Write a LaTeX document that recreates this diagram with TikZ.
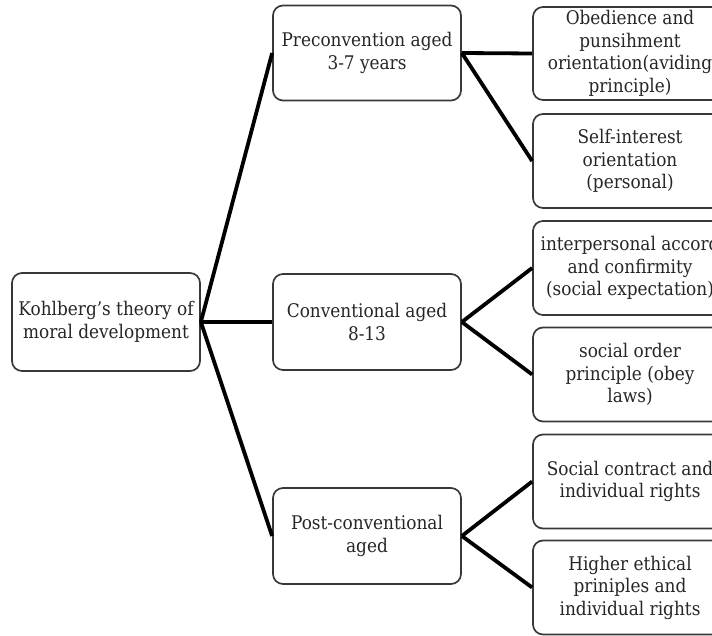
\documentclass[tikz,border=0pt]{standalone}
\usepackage{fontspec}
\setmainfont{DejaVu Serif Condensed}
\begin{document}
\begin{tikzpicture}[x=1pt,y=-1pt,
  box/.style={draw=black!78,line width=1.7pt,rounded corners=10pt,fill=white,
    align=center,text=black!85,inner sep=0pt,
    font=\fontsize{18.8}{22.5}\selectfont},
  midbox/.style={box,minimum width=188pt,minimum height=96pt},
  rbox/.style={box,minimum width=194pt,minimum height=94pt},
  link/.style={line width=3.8pt,black}]
\useasboundingbox (0,0) rectangle (712,636);
\node[midbox,minimum height=98pt] (root) at (106,322) {Kohlberg’s theory of\\moral development};
\node[midbox,minimum height=95pt] (pre) at (367,53) {Preconvention aged\\3-7 years};
\node[midbox] (conv) at (367,322) {Conventional aged\\8-13};
\node[midbox] (post) at (367,536) {Post-conventional\\aged};
\node[rbox,minimum height=93pt] (r1) at (630,53.5) {Obedience and\\punsihment\\orientation(aviding\\principle)};
\node[rbox] (r2) at (630,161) {Self-interest\\orientation\\(personal)};
\node[rbox] (r3) at (630,268) {interpersonal accord\\and confirmity\\(social expectation)};
\node[rbox] (r4) at (630,374.5) {social order\\principle (obey\\laws)};
\node[rbox] (r5) at (630,481.5) {Social contract and\\individual rights};
\node[rbox] (r6) at (630,587.5) {Higher ethical\\priniples and\\individual rights};
\draw[link] (root.east) -- (pre.west);
\draw[link] (root.east) -- (conv.west);
\draw[link] (root.east) -- (post.west);
\draw[link] (pre.east) -- (r1.west);
\draw[link] (pre.east) -- (r2.west);
\draw[link] (conv.east) -- (r3.west);
\draw[link] (conv.east) -- (r4.west);
\draw[link] (post.east) -- (r5.west);
\draw[link] (post.east) -- (r6.west);
\end{tikzpicture}
\end{document}
